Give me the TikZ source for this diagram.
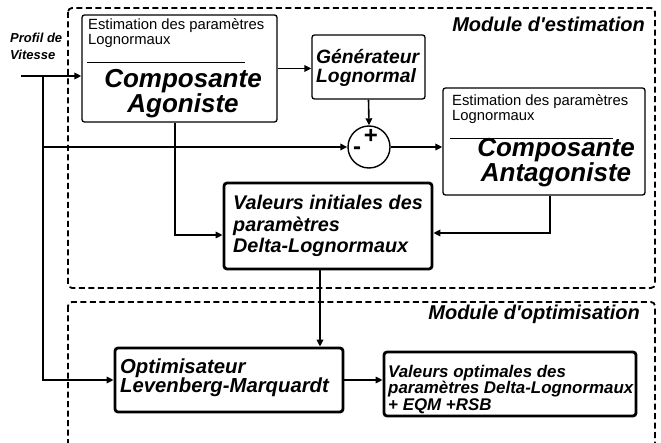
\documentclass[tikz,border=0pt]{standalone}
\usepackage{fontspec}
\setmainfont{Liberation Sans}
\usetikzlibrary{arrows.meta, positioning, calc}

\begin{document}
\begin{tikzpicture}[x=1pt, y=-1pt, >={Triangle[length=7pt, width=6.5pt]},
  module/.style={line width=1.8pt, dash pattern=on 6pt off 3.5pt, rounded corners=4pt},
  lightbox/.style={draw, line width=1.3pt, rounded corners=2.5pt, inner sep=0pt},
  heavybox/.style={draw, line width=2.8pt, rounded corners=3pt, inner sep=0pt},
  flow/.style={->, line width=1.6pt},
  modtitle/.style={font=\fontsize{20}{23}\selectfont\bfseries\itshape, anchor=base east, inner sep=0pt},
  smalltext/.style={font=\fontsize{14.8}{15.5}\selectfont, align=left, anchor=base west, inner sep=0pt},
  bigname/.style={font=\fontsize{26}{23.5}\selectfont\bfseries\itshape, align=center, anchor=base, inner sep=0pt},
  boxtext/.style={font=\fontsize{#1}{#1}\selectfont\bfseries\itshape, align=left, anchor=base west, inner sep=0pt}]

  \clip (0,0) rectangle (661,443);

  % --- the two modules ---
  \draw[module] (68,8) rectangle (655,288);
  \draw[module] (68,302) rectangle (655,470);
  \node[modtitle] (esttitle) at (645,32) {Module d\textquotesingle estimation};
  \node[modtitle] (opttitle) at (640,320) {Module d\textquotesingle optimisation};

  % --- input ---
  \node[font=\fontsize{13}{17}\selectfont\bfseries\itshape, align=left, anchor=base west, inner sep=0pt]
    (profil) at (10,60) {Profil de\\Vitesse};
  \coordinate (in) at (21,76);
  \coordinate (split) at (43,76);

  % --- agonist component ---
  \node[lightbox, minimum width=195pt, minimum height=107pt] (agon) at (179.5,68.5) {};
  \node[smalltext] (agonhead) at (88,45) {Estimation des paramètres\\Lognormaux};
  \draw[line width=0.9pt] (87,62) -- (245,62);
  \node[bigname] (agonname) at (183,113) {Composante\\Agoniste};

  % --- generator and sum ---
  \node[lightbox, minimum width=113pt, minimum height=64pt] (gen) at (368.5,67) {};
  \node[boxtext=19.3] (gentext) at (316,83) {Générateur\\Lognormal};
  \node[draw, circle, line width=1.4pt, minimum size=42pt, inner sep=0pt] (sum) at (369,147) {};
  \node[font=\fontsize{24}{24}\selectfont\bfseries, inner sep=0pt] (plus) at (371,136) {+};
  \node[font=\fontsize{24}{24}\selectfont\bfseries, inner sep=0pt] (minus) at (357,151) {-};

  % --- antagonist component ---
  \node[lightbox, minimum width=202pt, minimum height=107pt] (antag) at (544,141.5) {};
  \node[smalltext] (antaghead) at (452,121) {Estimation des paramètres\\Lognormaux};
  \draw[line width=0.9pt] (450,138) -- (613,138);
  \node[bigname] (antagname) at (556,182) {Composante\\Antagoniste};

  % --- initial values ---
  \node[heavybox, minimum width=208pt, minimum height=86pt] (init) at (328,226) {};
  \node[boxtext=19.8, font=\fontsize{19.8}{21.5}\selectfont\bfseries\itshape] (inittext) at (233,253)
    {Valeurs initiales des\\paramètres\\Delta-Lognormaux};

  % --- optimisation ---
  \node[heavybox, minimum width=228pt, minimum height=64pt] (opt) at (229,380) {};
  \node[boxtext=20, font=\fontsize{20.3}{19}\selectfont\bfseries\itshape] (opttext) at (120,392)
    {Optimisateur\\Levenberg-Marquardt};
  \node[heavybox, minimum width=252pt, minimum height=64pt] (valopt) at (510,384) {};
  \node[boxtext=16.8, font=\fontsize{16.9}{16.5}\selectfont\bfseries\itshape] (valopttext) at (388,410)
    {Valeurs optimales des\\paramètres Delta-Lognormaux\\+ EQM +RSB};

  % --- connectors ---
  \draw[flow] (in) -- (in -| agon.west);
  \draw[flow] (split) |- (opt.west);
  \draw[flow] (split |- sum) -- (sum.west);
  \draw[flow] (agon.east) -- (agon.east -| gen.west);
  \draw[flow] (gen.south) -- (sum.north);
  \draw[flow] (sum.east) -- (sum.east -| antag.west);
  \draw[flow] ([xshift=-4.5pt]agon.south) |- ([yshift=-9pt]init.west);
  \draw[flow] ([xshift=6pt]antag.south) |- ([yshift=-7pt]init.east);
  \draw[flow] ([xshift=-8pt]init.south) -- ([xshift=-8pt]init.south |- opt.north);
  \draw[flow] (opt.east) -- (opt.east -| valopt.west);

\end{tikzpicture}
\end{document}
